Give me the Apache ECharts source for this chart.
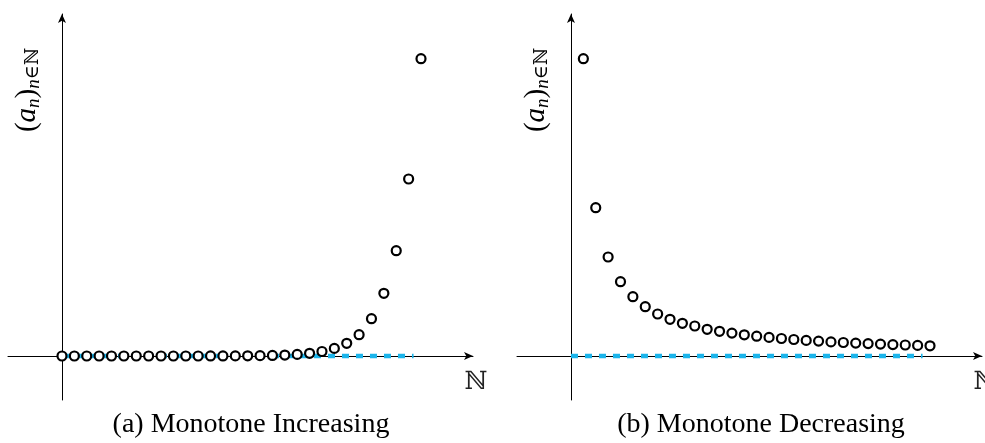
<!DOCTYPE html>
<html>
<head>
<meta charset="utf-8">
<script src="https://cdn.jsdelivr.net/npm/echarts@6/dist/echarts.min.js"></script>
<style>
html,body{margin:0;padding:0;background:#fff;}
#c{width:985px;height:443px;}
</style>
</head>
<body>
<div id="c"></div>
<script>
// Data
var nIncreasing = [0,1,2,3,4,5,6,7,8,9,10,11,12,13,14,15,16,17,18,19,20,21,22,23,24,25,26,27,28,29];
var valuesIncreasing = [0,0,0,0,0,0,0,0,0.01,0.01,0.01,0.02,0.04,0.06,0.1,0.2,0.34,0.57,0.95,1.6,2.7,4.5,7.6,12.7,21.3,37.3,62.7,105.3,177,297.3];
var nDecreasing = [1,2,3,4,5,6,7,8,9,10,11,12,13,14,15,16,17,18,19,20,21,22,23,24,25,26,27,28,29];
var valuesDecreasing = [297.3,148.3,99,74.3,59.3,49.3,42,36.7,32.7,30,26.7,24.7,22.9,21.2,19.8,18.6,17.5,16.5,15.6,14.9,14.1,13.5,12.9,12.4,11.9,11.4,11.0,10.6,10.2];
var limitLine = [[0,0],[28.4,0]];
var captions = ['(a) Monotone Increasing', '(b) Monotone Decreasing'];

function pairs(xs, ys){ return xs.map(function(x,i){ return [x, ys[i]]; }); }

var chart = echarts.init(document.getElementById('c'), null, {renderer:'canvas'});
var serif = '"Liberation Serif", "DejaVu Serif", serif';

function xAxisDef(gi){
  return {
    gridIndex: gi, type:'value', min:-4.36, max:33.2, z:0,
    axisLine:{onZero:true, lineStyle:{color:'#000', width:1}, symbol:['none','arrow'], symbolSize:[6,9]},
    axisTick:{show:false}, axisLabel:{show:false}, splitLine:{show:false}
  };
}
function yAxisDef(gi){
  return {
    gridIndex: gi, type:'value', min:-44, max:342, z:0,
    axisLine:{onZero:true, lineStyle:{color:'#000', width:1}, symbol:['none','arrow'], symbolSize:[6,9]},
    axisTick:{show:false}, axisLabel:{show:false}, splitLine:{show:false}
  };
}
function dashSeries(gi){
  return {
    type:'line', xAxisIndex:gi, yAxisIndex:gi, data:limitLine, symbol:'none', z:5,
    lineStyle:{color:'#1CB5EB', width:4.5, type:[7,7], cap:'butt'}, silent:true, animation:false
  };
}
function pointSeries(gi, data){
  return {
    type:'scatter', xAxisIndex:gi, yAxisIndex:gi, data:data, symbol:'circle', symbolSize:9, z:6,
    itemStyle:{color:'#fff', borderColor:'#000', borderWidth:2.2, opacity:1}, silent:true, animation:false
  };
}
function yLabel(x, y){
  return {
    type:'text', x:x, y:y, rotation:Math.PI/2,
    style:{
      text:'{p|(}{v|a}{si|n}{p|)}{si|n}{su|∈ℕ}',
      textAlign:'center', textVerticalAlign:'middle',
      rich:{
        p:{fontFamily:serif, fontSize:29, lineHeight:32, verticalAlign:'middle'},
        v:{fontFamily:serif, fontSize:29, fontStyle:'italic', lineHeight:32, verticalAlign:'middle'},
        si:{fontFamily:serif, fontSize:19, fontStyle:'italic', lineHeight:32, verticalAlign:'bottom', padding:[12,0,0,0]},
        su:{fontFamily:serif, fontSize:19, lineHeight:32, verticalAlign:'bottom', padding:[12,0,0,0]}
      },
      fill:'#000'
    }
  };
}
function nLabel(x, y){
  return {type:'text', x:x, y:y, style:{text:'ℕ', font:'25px "DejaVu Serif", serif', fill:'#222', textAlign:'center', textVerticalAlign:'middle'}};
}
function caption(x, y, t){
  return {type:'text', x:x, y:y, style:{text:t, font:'28px ' + serif, fill:'#000', textAlign:'center', textVerticalAlign:'middle'}};
}

chart.setOption({
  animation:false,
  grid:[
    {left:8, top:14, width:465, height:386},
    {left:517, top:14, width:465, height:386}
  ],
  xAxis:[xAxisDef(0), xAxisDef(1)],
  yAxis:[yAxisDef(0), yAxisDef(1)],
  series:[
    dashSeries(0), pointSeries(0, pairs(nIncreasing, valuesIncreasing)),
    dashSeries(1), pointSeries(1, pairs(nDecreasing, valuesDecreasing))
  ],
  graphic:[
    yLabel(27, 90), yLabel(536, 90),
    nLabel(476, 382), nLabel(985, 382),
    caption(251, 425, captions[0]), caption(761, 425, captions[1])
  ]
});
</script>
</body>
</html>
